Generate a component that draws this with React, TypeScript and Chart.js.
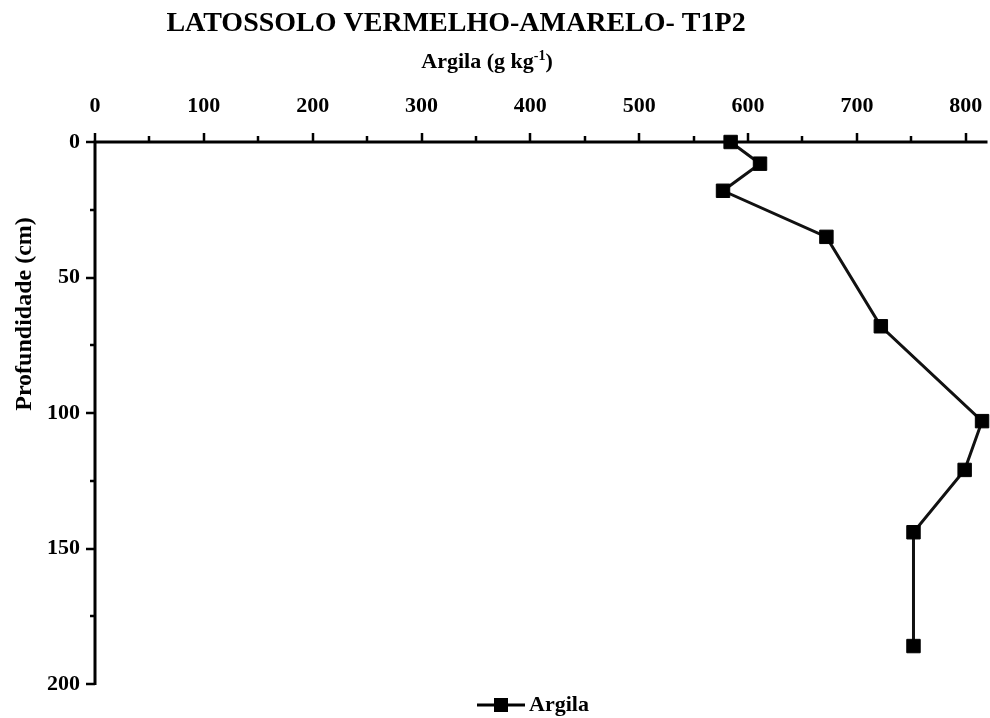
import React, { useEffect, useRef } from 'react';
import { Chart, registerables } from 'chart.js';

Chart.register(...registerables);

// ---- data ----
const TITLE = 'LATOSSOLO VERMELHO-AMARELO- T1P2';
const X_TITLE = 'Argila (g kg';
const X_TITLE_SUP = '-1';
const X_TITLE_END = ')';
const Y_TITLE = 'Profundidade (cm)';
const SERIES_LABEL = 'Argila';

const argila = [584, 611, 577, 672, 722, 815, 799, 752, 752];
const profundidade = [0, 8, 18, 35, 68, 103, 121, 144, 186];

const xTicks = [0, 100, 200, 300, 400, 500, 600, 700, 800];
const xMinorTicks = [50, 150, 250, 350, 450, 550, 650, 750];
const yTicks = [0, 50, 100, 150, 200];
const yMinorTicks = [25, 75, 125, 175];

const X_MIN = 0;
const X_MAX = 820;
const Y_MIN = 0;
const Y_MAX = 200;

const FONT = '"Liberation Serif", "Times New Roman", serif';

const decorPlugin = {
  id: 'decor',
  beforeDatasetsDraw(chart: any) {
    const { ctx, chartArea: ca, scales } = chart;
    const xs = scales.x;
    const ys = scales.y;
    ctx.save();
    ctx.strokeStyle = '#000';
    ctx.lineWidth = 3;
    ctx.beginPath();
    ctx.moveTo(ca.left - 1.5, ca.top);
    ctx.lineTo(ca.right, ca.top);
    ctx.moveTo(ca.left, ca.top - 1.5);
    ctx.lineTo(ca.left, ca.bottom + 1);
    ctx.stroke();

    ctx.lineWidth = 2.5;
    ctx.beginPath();
    for (const v of xTicks) {
      const px = Math.round(xs.getPixelForValue(v));
      ctx.moveTo(px, ca.top);
      ctx.lineTo(px, ca.top - 9);
    }
    for (const v of xMinorTicks) {
      const px = Math.round(xs.getPixelForValue(v));
      ctx.moveTo(px, ca.top);
      ctx.lineTo(px, ca.top - 6);
    }
    for (const v of yTicks) {
      const py = Math.round(ys.getPixelForValue(v));
      ctx.moveTo(ca.left, py);
      ctx.lineTo(ca.left - 9, py);
    }
    for (const v of yMinorTicks) {
      const py = Math.round(ys.getPixelForValue(v));
      ctx.moveTo(ca.left, py);
      ctx.lineTo(ca.left - 5, py);
    }
    ctx.stroke();
    ctx.restore();
  },
  afterDraw(chart: any) {
    const { ctx } = chart;
    ctx.save();
    ctx.fillStyle = '#000';

    // main title
    ctx.font = `bold 28px ${FONT}`;
    ctx.textAlign = 'center';
    ctx.textBaseline = 'alphabetic';
    ctx.fillText(TITLE, 456, 31);

    // x-axis title with superscript
    ctx.font = `bold 22px ${FONT}`;
    const w1 = ctx.measureText(X_TITLE).width;
    const w3 = ctx.measureText(X_TITLE_END).width;
    ctx.font = `bold 14px ${FONT}`;
    const w2 = ctx.measureText(X_TITLE_SUP).width;
    const total = w1 + w2 + w3;
    let sx = 487 - total / 2;
    ctx.textAlign = 'left';
    ctx.font = `bold 22px ${FONT}`;
    ctx.fillText(X_TITLE, sx, 68);
    sx += w1;
    ctx.font = `bold 14px ${FONT}`;
    ctx.fillText(X_TITLE_SUP, sx, 60);
    sx += w2;
    ctx.font = `bold 22px ${FONT}`;
    ctx.fillText(X_TITLE_END, sx, 68);

    // y-axis title
    ctx.save();
    ctx.translate(31, 314);
    ctx.rotate(-Math.PI / 2);
    ctx.font = `bold 24px ${FONT}`;
    ctx.textAlign = 'center';
    ctx.textBaseline = 'alphabetic';
    ctx.fillText(Y_TITLE, 0, 0);
    ctx.restore();

    // legend
    const ly = 705;
    ctx.strokeStyle = '#000';
    ctx.lineWidth = 3;
    ctx.beginPath();
    ctx.moveTo(477, ly);
    ctx.lineTo(525, ly);
    ctx.stroke();
    ctx.fillRect(501 - 7, ly - 7, 14, 14);
    ctx.font = `bold 22px ${FONT}`;
    ctx.textAlign = 'left';
    ctx.textBaseline = 'middle';
    ctx.fillText(SERIES_LABEL, 529, ly);
    ctx.restore();
  },
};

export default function App() {
  const canvasRef = useRef<HTMLCanvasElement | null>(null);

  useEffect(() => {
    document.body.style.margin = '0';
    const canvas = canvasRef.current;
    if (!canvas) return;
    const points = argila.map((v, i) => ({ x: v, y: profundidade[i] }));
    const chart = new Chart(canvas, {
      type: 'scatter',
      data: {
        datasets: [
          {
            label: SERIES_LABEL,
            data: points,
            showLine: true,
            borderColor: '#111',
            borderWidth: 3,
            backgroundColor: '#000',
            pointStyle: 'rect',
            pointRadius: 9.5,
            pointHoverRadius: 9.5,
            pointBorderWidth: 1,
            pointBorderColor: '#000',
            pointBackgroundColor: '#000',
            clip: false,
          } as any,
        ],
      },
      options: {
        responsive: false,
        animation: false,
        devicePixelRatio: 1,
        layout: { padding: { left: 0, top: 0, right: 0, bottom: 34 } },
        plugins: {
          legend: { display: false },
          title: { display: false },
          tooltip: { enabled: false },
        },
        scales: {
          x: {
            type: 'linear',
            position: 'top',
            min: X_MIN,
            max: X_MAX,
            afterBuildTicks: (scale: any) => {
              scale.ticks = xTicks.map((v) => ({ value: v }));
            },
            afterFit: (scale: any) => {
              scale.height = 142;
              scale.paddingLeft = 0;
              scale.paddingRight = 0;
            },
            grid: { display: false, drawTicks: false },
            border: { display: false },
            ticks: {
              padding: 22,
              color: '#000',
              font: { family: FONT, size: 22, weight: 'bold' },
              maxRotation: 0,
            },
          },
          y: {
            type: 'linear',
            reverse: true,
            min: Y_MIN,
            max: Y_MAX,
            afterBuildTicks: (scale: any) => {
              scale.ticks = yTicks.map((v) => ({ value: v }));
            },
            afterFit: (scale: any) => {
              scale.width = 95;
              scale.paddingTop = 0;
              scale.paddingBottom = 0;
            },
            grid: { display: false, drawTicks: false },
            border: { display: false },
            ticks: {
              padding: 15,
              color: '#000',
              font: { family: FONT, size: 22, weight: 'bold' },
            },
          },
        },
      },
      plugins: [decorPlugin],
    });
    return () => chart.destroy();
  }, []);

  return (
    <div
      style={{
        position: 'absolute',
        left: 0,
        top: 0,
        width: 990,
        height: 718,
        overflow: 'hidden',
        background: '#fff',
      }}
    >
      <canvas ref={canvasRef} width={998} height={718} style={{ display: 'block' }} />
    </div>
  );
}
